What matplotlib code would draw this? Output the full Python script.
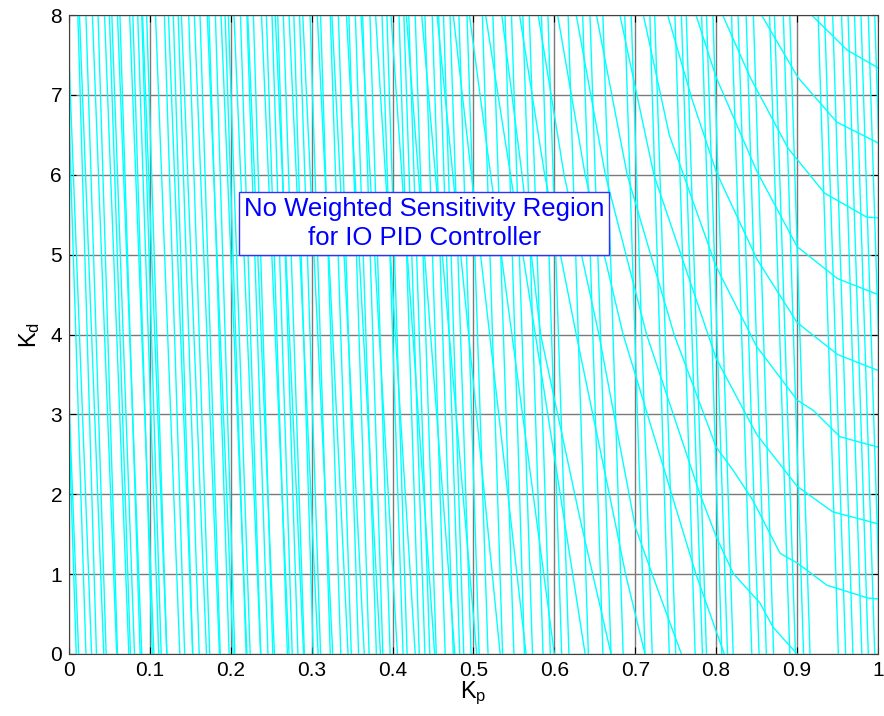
import matplotlib
matplotlib.use("Agg")
import matplotlib.pyplot as plt

plt.rcParams['font.family'] = ['Liberation Sans', 'DejaVu Sans']
plt.rcParams['mathtext.default'] = 'regular'

# near-vertical lines: Kp where each line meets Kd = 8 (top) and Kd = 0 (bottom)
steep_top = [-0.016, -0.004, 0.011, 0.021, 0.036, 0.050, 0.053, 0.063, 0.079, 0.085,
             0.090, 0.096, 0.118, 0.129, 0.135, 0.148, 0.162, 0.173, 0.181, 0.193,
             0.197, 0.212, 0.220, 0.228, 0.244, 0.251, 0.258, 0.265, 0.278, 0.285,
             0.298, 0.311, 0.323, 0.333, 0.346, 0.354, 0.363, 0.372, 0.387, 0.393,
             0.408, 0.414, 0.420, 0.428, 0.440, 0.449, 0.457, 0.463, 0.471, 0.482,
             0.492, 0.511, 0.524, 0.539, 0.547, 0.561, 0.569, 0.584, 0.592, 0.617,
             0.635, 0.644, 0.660, 0.687, 0.695, 0.718, 0.724, 0.749, 0.757, 0.763,
             0.782, 0.788, 0.796, 0.819, 0.827, 0.837, 0.846, 0.866, 0.872, 0.883,
             0.891, 0.926, 0.934, 0.944, 0.955, 0.963, 0.971, 0.979, 0.988, 0.996]
steep_bottom = [0.009, 0.021, 0.034, 0.046, 0.060, 0.076, 0.081, 0.088, 0.103, 0.111,
                0.114, 0.121, 0.143, 0.153, 0.161, 0.174, 0.187, 0.198, 0.205, 0.219,
                0.224, 0.237, 0.246, 0.252, 0.270, 0.276, 0.283, 0.291, 0.302, 0.311,
                0.323, 0.336, 0.349, 0.358, 0.371, 0.380, 0.388, 0.397, 0.413, 0.418,
                0.433, 0.440, 0.446, 0.454, 0.465, 0.475, 0.483, 0.488, 0.497, 0.507,
                0.518, 0.536, 0.550, 0.563, 0.573, 0.586, 0.595, 0.609, 0.618, 0.642,
                0.660, 0.670, 0.685, 0.712, 0.721, 0.742, 0.750, 0.774, 0.783, 0.788,
                0.807, 0.814, 0.821, 0.844, 0.853, 0.862, 0.871, 0.891, 0.898, 0.908,
                0.916, 0.951, 0.960, 0.969, 0.980, 0.988, 0.996, 1.004, 1.013, 1.021]

# slanted lines on the left part of the plane (top / bottom Kp)
slant_top = [0.515, 0.495, 0.475, 0.455, 0.436, 0.417, 0.398, 0.379, 0.361, 0.343,
             0.325, 0.307, 0.289, 0.272, 0.255, 0.238, 0.221, 0.204, 0.188, 0.171,
             0.155, 0.139, 0.123, 0.107, 0.091, 0.075, 0.060, 0.044, 0.029, 0.013,
             -0.002, -0.018]
slant_bottom = [0.638, 0.600, 0.565, 0.533, 0.504, 0.477, 0.452, 0.428, 0.406, 0.385,
                0.365, 0.345, 0.326, 0.308, 0.290, 0.272, 0.254, 0.237, 0.220, 0.203,
                0.186, 0.170, 0.153, 0.137, 0.121, 0.105, 0.090, 0.074, 0.059, 0.043,
                0.028, 0.012]

# bending curves on the right
curve_kp = [
    [0.918, 0.962, 1.0],
    [0.856, 0.901, 0.949, 1.0],
    [0.808, 0.842, 0.889, 0.934, 0.986, 1.0],
    [0.775, 0.800, 0.850, 0.900, 0.950, 1.0],
    [0.740, 0.770, 0.800, 0.850, 0.900, 0.950, 1.0],
    [0.710, 0.742, 0.800, 0.850, 0.900, 0.920, 0.953, 1.0],
    [0.681, 0.723, 0.800, 0.850, 0.900, 0.944, 1.0],
    [0.652, 0.690, 0.748, 0.800, 0.821, 0.845, 0.879, 0.900, 0.937, 0.988, 1.0],
    [0.627, 0.663, 0.714, 0.780, 0.800, 0.821, 0.854, 0.870, 0.900],
    [0.604, 0.638, 0.685, 0.745, 0.775, 0.810],
    [0.580, 0.612, 0.655, 0.700, 0.728, 0.757],
    [0.557, 0.588, 0.627, 0.668, 0.688, 0.712],
    [0.535, 0.560, 0.583, 0.632, 0.670],
]
curve_kd = [
    [8.0, 7.56, 7.34],
    [8.0, 7.22, 6.66, 6.40],
    [8.0, 7.22, 6.33, 5.77, 5.47, 5.46],
    [8.0, 7.22, 6.05, 5.10, 4.70, 4.50],
    [8.0, 6.95, 6.04, 4.95, 4.15, 3.75, 3.55],
    [8.0, 6.50, 4.85, 3.85, 3.18, 3.05, 2.72, 2.59],
    [8.0, 6.00, 3.70, 2.75, 2.10, 1.78, 1.63],
    [8.0, 6.00, 4.00, 2.59, 2.30, 1.93, 1.26, 1.14, 0.86, 0.70, 0.69],
    [8.0, 6.00, 4.00, 2.00, 1.47, 1.01, 0.64, 0.34, 0.0],
    [8.0, 6.00, 4.00, 2.00, 1.00, 0.0],
    [8.0, 6.00, 4.00, 1.59, 0.80, 0.0],
    [8.0, 6.00, 4.00, 2.00, 1.00, 0.0],
    [8.0, 6.00, 4.00, 1.68, 0.0],
]

kd_top, kd_bottom = 8, 0
xticks = [0, 0.1, 0.2, 0.3, 0.4, 0.5, 0.6, 0.7, 0.8, 0.9, 1]
xlabels = ['0', '0.1', '0.2', '0.3', '0.4', '0.5', '0.6', '0.7', '0.8', '0.9', '1']
yticks = [0, 1, 2, 3, 4, 5, 6, 7, 8]

fig = plt.figure(figsize=(8.84, 7.16), dpi=100)
ax = fig.add_axes([0.078, 0.0866, 0.9152, 0.8924])

cyan = '#00FFFF'
for t, b in zip(steep_top, steep_bottom):
    ax.plot([t, b], [kd_top, kd_bottom], color=cyan, lw=1.0)
for t, b in zip(slant_top, slant_bottom):
    ax.plot([t, b], [kd_top, kd_bottom], color=cyan, lw=1.0)
for kp, kd in zip(curve_kp, curve_kd):
    ax.plot(kp, kd, color=cyan, lw=1.0)

ax.set_xlim(0, 1)
ax.set_ylim(0, 8)
ax.set_xticks(xticks)
ax.set_xticklabels(xlabels)
ax.set_yticks(yticks)
ax.grid(True, color='#7a7a7a', lw=1.0)
ax.set_axisbelow(True)
ax.tick_params(direction='in', top=True, right=True, labelsize=15, length=5, pad=5)
for s in ax.spines.values():
    s.set_color('#404040')
    s.set_linewidth(0.8)

ax.set_xlabel('K$_p$', fontsize=17, labelpad=0)
ax.set_ylabel('K$_d$', fontsize=17, labelpad=6)

ax.text(0.439, 5.39, 'No Weighted Sensitivity Region\nfor IO PID Controller',
        color='#0000FF', fontsize=18.5, ha='center', va='center', multialignment='center',
        linespacing=1.25,
        bbox=dict(boxstyle='square,pad=0.2', facecolor='white', edgecolor='#3030FF', lw=1.0))

fig.savefig('out.png', dpi=100)
